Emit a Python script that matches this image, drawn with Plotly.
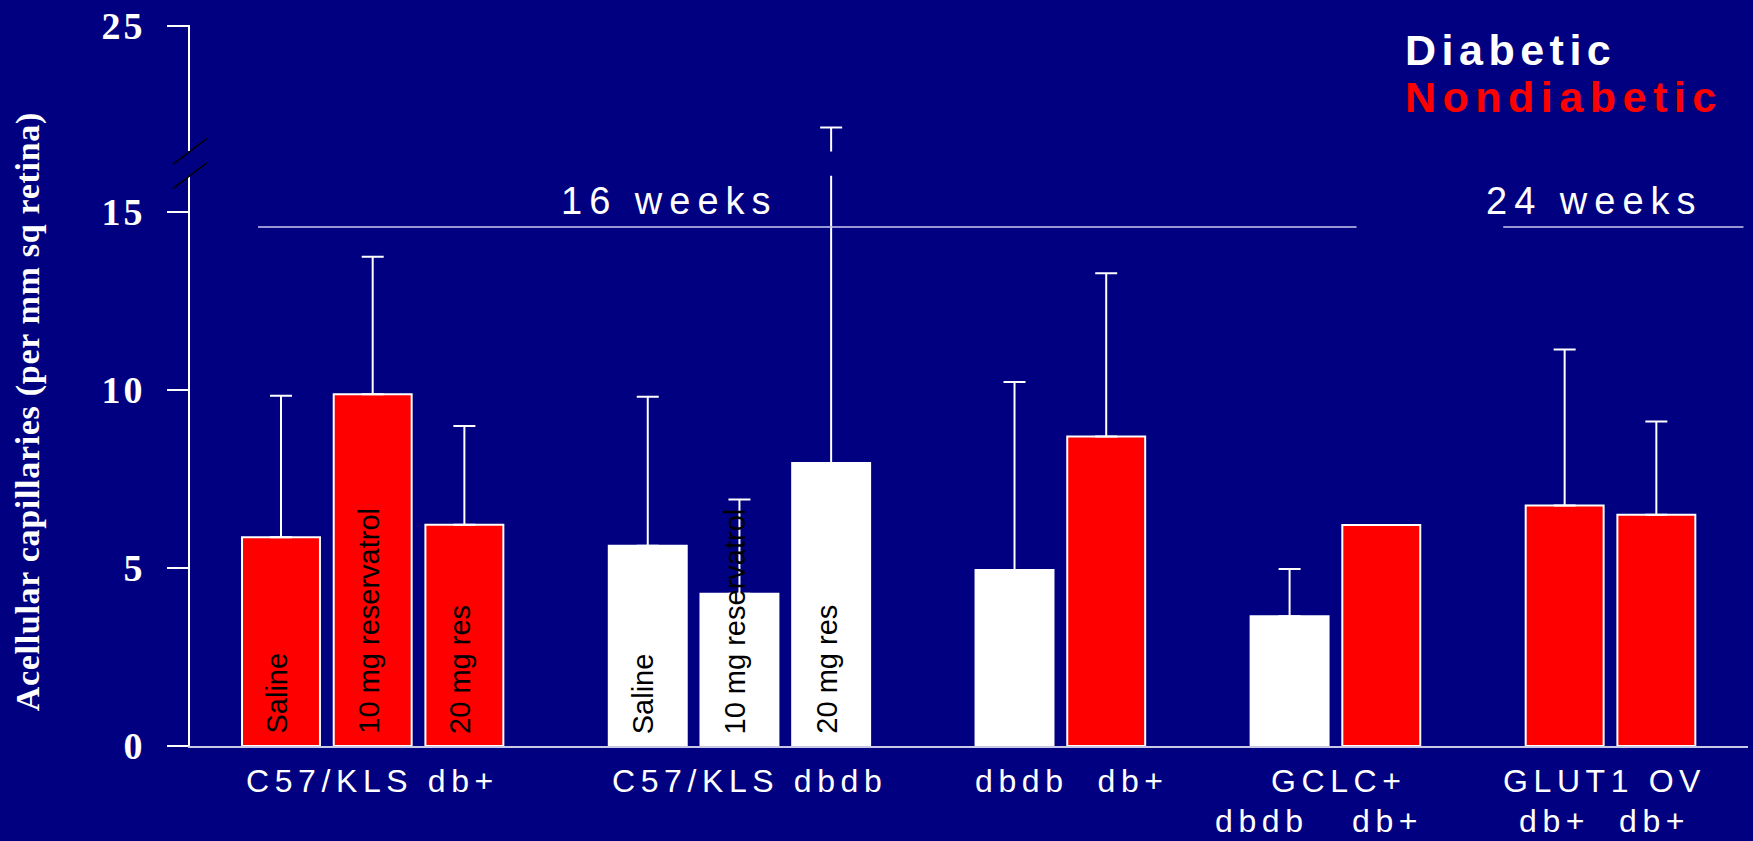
import plotly.graph_objects as go

# ---------------- data ----------------
group_labels = ["C57/KLS db+", "C57/KLS dbdb", "dbdb  db+", "GCLC+", "GLUT1 OV"]
group_sublabels = ["", "", "", "dbdb   db+", "db+  db+"]
bar_group = [0, 0, 0, 1, 1, 1, 2, 2, 3, 3, 4, 4]
bar_treatment = ["Saline", "10 mg reservatrol", "20 mg res",
                 "Saline", "10 mg reservatrol", "20 mg res",
                 "", "", "", "", "", ""]
bar_status = ["Nondiabetic", "Nondiabetic", "Nondiabetic",
              "Diabetic", "Diabetic", "Diabetic",
              "Diabetic", "Nondiabetic", "Diabetic", "Nondiabetic",
              "Nondiabetic", "Nondiabetic"]
mean_values = [5.86, 9.87, 6.21, 5.62, 4.27, 7.94, 4.94, 8.69, 3.64, 6.20, 6.75, 6.49]
upper_error = [3.97, 3.86, 2.77, 4.18, 2.65, 14.20, 5.28, 4.58, 1.33, None, 4.38, 2.62]
y_ticks_lower = [0, 5, 10, 15]
y_ticks_upper = [25]
periods = ["16 weeks", "24 weeks"]
period_level = 14.57

# ---------------- geometry ----------------
W, H = 1753, 841
ML, MR, MT, MB = 190, 5, 20, 95
PW, PH = W - ML - MR, H - MT - MB
BASE_PX = H - MB                 # pixel row of y = 0
PX_PER_UNIT = 35.875             # vertical scale, both axis segments
SLOT_PX = 91.69                  # horizontal distance between neighbouring bars
FIRST_BAR_PX = 281

LOWER_TOP_PX = 171.7             # axis break: end of lower segment
UPPER_BOT_PX = 147.3             # axis break: start of upper segment
lower_dom_top = (BASE_PX - LOWER_TOP_PX) / PH
upper_dom_bot = (BASE_PX - UPPER_BOT_PX) / PH
lower_top = (BASE_PX - LOWER_TOP_PX) / PX_PER_UNIT
upper_top = 25 + (21 - MT - 0.3) / PX_PER_UNIT
upper_bot = upper_top - (UPPER_BOT_PX - MT) / PX_PER_UNIT

x0 = -(FIRST_BAR_PX - ML) / SLOT_PX
x1 = x0 + PW / SLOT_PX


def px_x(p):
    return (p - ML) / PW


def px_y(p):
    return (BASE_PX - p) / PH


def spaced(text, px):
    return f'<span style="letter-spacing:{px}px">{text}</span>'


# bar slots: groups separated by one empty slot
positions = []
slot, prev = 0, None
for g in bar_group:
    if prev is not None and g != prev:
        slot += 1
    positions.append(slot)
    slot += 1
    prev = g

status_color = {"Diabetic": "#ffffff", "Nondiabetic": "#ff0000"}
NAVY = "#000080"

fig = go.Figure()
for status in ["Nondiabetic", "Diabetic"]:
    idx = [i for i, s in enumerate(bar_status) if s == status]
    xs = [positions[i] for i in idx]
    ys = [mean_values[i] for i in idx]
    ep = [upper_error[i] for i in idx]
    em = [0 if e is not None else None for e in ep]
    for xa, ya in (("x", "y"), ("x2", "y2")):
        fig.add_trace(go.Bar(
            x=xs, y=ys, xaxis=xa, yaxis=ya, name=status, width=0.85,
            marker=dict(color=status_color[status], line=dict(color="white", width=2)),
            error_y=dict(type="data", array=ep, arrayminus=em, symmetric=False,
                         color="white", thickness=2, width=11),
            showlegend=False, hoverinfo="skip",
        ))

tick_font = dict(family="Liberation Serif", size=38, color="white", weight="bold")
common_y = dict(showline=True, linecolor="white", linewidth=2, ticks="outside",
                ticklen=21, tickwidth=2, tickcolor="white", tickfont=tick_font,
                ticklabelstandoff=14, showgrid=False, zeroline=False, fixedrange=True)

fig.update_layout(
    width=W, height=H,
    margin=dict(l=ML, r=MR, t=MT, b=MB, pad=0),
    paper_bgcolor=NAVY, plot_bgcolor=NAVY,
    barmode="overlay", showlegend=False,
    xaxis=dict(domain=[0, 1], range=[x0, x1], anchor="y", showline=True,
               linecolor="#c8c8e6", linewidth=2, showticklabels=False, ticks="",
               showgrid=False, zeroline=False, fixedrange=True),
    xaxis2=dict(domain=[0, 1], range=[x0, x1], anchor="y2", matches="x",
                visible=False, fixedrange=True),
    yaxis=dict(domain=[0, lower_dom_top], range=[0, lower_top], anchor="x",
               tickvals=y_ticks_lower,
               ticktext=[spaced(f"<b>{v}</b>", 3) for v in y_ticks_lower], **common_y),
    yaxis2=dict(domain=[upper_dom_bot, 1], range=[upper_bot, upper_top], anchor="x2",
                tickvals=y_ticks_upper,
                ticktext=[spaced(f"<b>{v}</b>", 3) for v in y_ticks_upper], **common_y),
)

ann = []

# treatment names written upward inside the bars
for i, t in enumerate(bar_treatment):
    if t:
        ann.append(dict(x=positions[i], y=0, xref="x", yref="y", text=t,
                        textangle=-90, xanchor="center", yanchor="bottom",
                        xshift=-4, yshift=10, showarrow=False,
                        font=dict(family="Liberation Sans", size=29, color="black")))

# group labels under the axis
label_font = dict(family="Liberation Sans", size=32, color="white")
label_shift = [0, 10, 12, 4, -6]
sublabel_shift = [0, 0, 0, -16, -6]
for g, (lab, sub) in enumerate(zip(group_labels, group_sublabels)):
    gx = [positions[i] for i, gg in enumerate(bar_group) if gg == g]
    cx = sum(gx) / len(gx)
    ann.append(dict(x=cx, y=px_y(781), xref="x", yref="paper", text=spaced(lab, 5.6),
                    xanchor="center", yanchor="middle", showarrow=False, font=label_font,
                    xshift=label_shift[g]))
    if sub:
        ann.append(dict(x=cx, y=px_y(822), xref="x", yref="paper", text=spaced(sub, 5.6),
                        xanchor="center", yanchor="middle", showarrow=False, font=label_font,
                        xshift=sublabel_shift[g]))

# study duration brackets
period_span = [(-0.25, 11.73), (13.33, 15.95)]
period_text_x = [4.24, 14.33]
shapes = []
for name, (a, b), tx in zip(periods, period_span, period_text_x):
    shapes.append(dict(type="line", xref="x", yref="y", x0=a, x1=b,
                       y0=period_level, y1=period_level,
                       line=dict(color="#c8c8f0", width=1.5)))
    ann.append(dict(x=tx, y=px_y(197), xref="x", yref="paper", text=spaced(name, 7),
                    xanchor="center", yanchor="middle", showarrow=False,
                    font=dict(family="Liberation Sans", size=38, color="white")))

# legend text
ann.append(dict(x=px_x(1403), y=px_y(45), xref="paper", yref="paper",
                text=spaced("Diabetic", 5.5), xanchor="left", yanchor="middle",
                showarrow=False,
                font=dict(family="Liberation Sans", size=43, color="white", weight="bold")))
ann.append(dict(x=px_x(1403), y=px_y(93), xref="paper", yref="paper",
                text=spaced("Nondiabetic", 6.5), xanchor="left", yanchor="middle",
                showarrow=False,
                font=dict(family="Liberation Sans", size=43, color="#ff0000", weight="bold")))

# y-axis title
ann.append(dict(x=px_x(28), y=px_y(410), xref="paper", yref="paper",
                text=spaced("Acellular capillaries (per mm sq retina)", 0.7),
                textangle=-90, xanchor="center", yanchor="middle", showarrow=False,
                font=dict(family="Liberation Serif", size=34, color="white", weight="bold")))

# axis break marks
dx, dy = 17 / PW, 13 / PH
for edge in (lower_dom_top, upper_dom_bot):
    shapes.append(dict(type="line", xref="paper", yref="paper",
                       x0=-dx, x1=dx, y0=edge - dy, y1=edge + dy,
                       line=dict(color="black", width=1.5)))

fig.update_layout(annotations=ann, shapes=shapes)
fig.write_html("out.html")
